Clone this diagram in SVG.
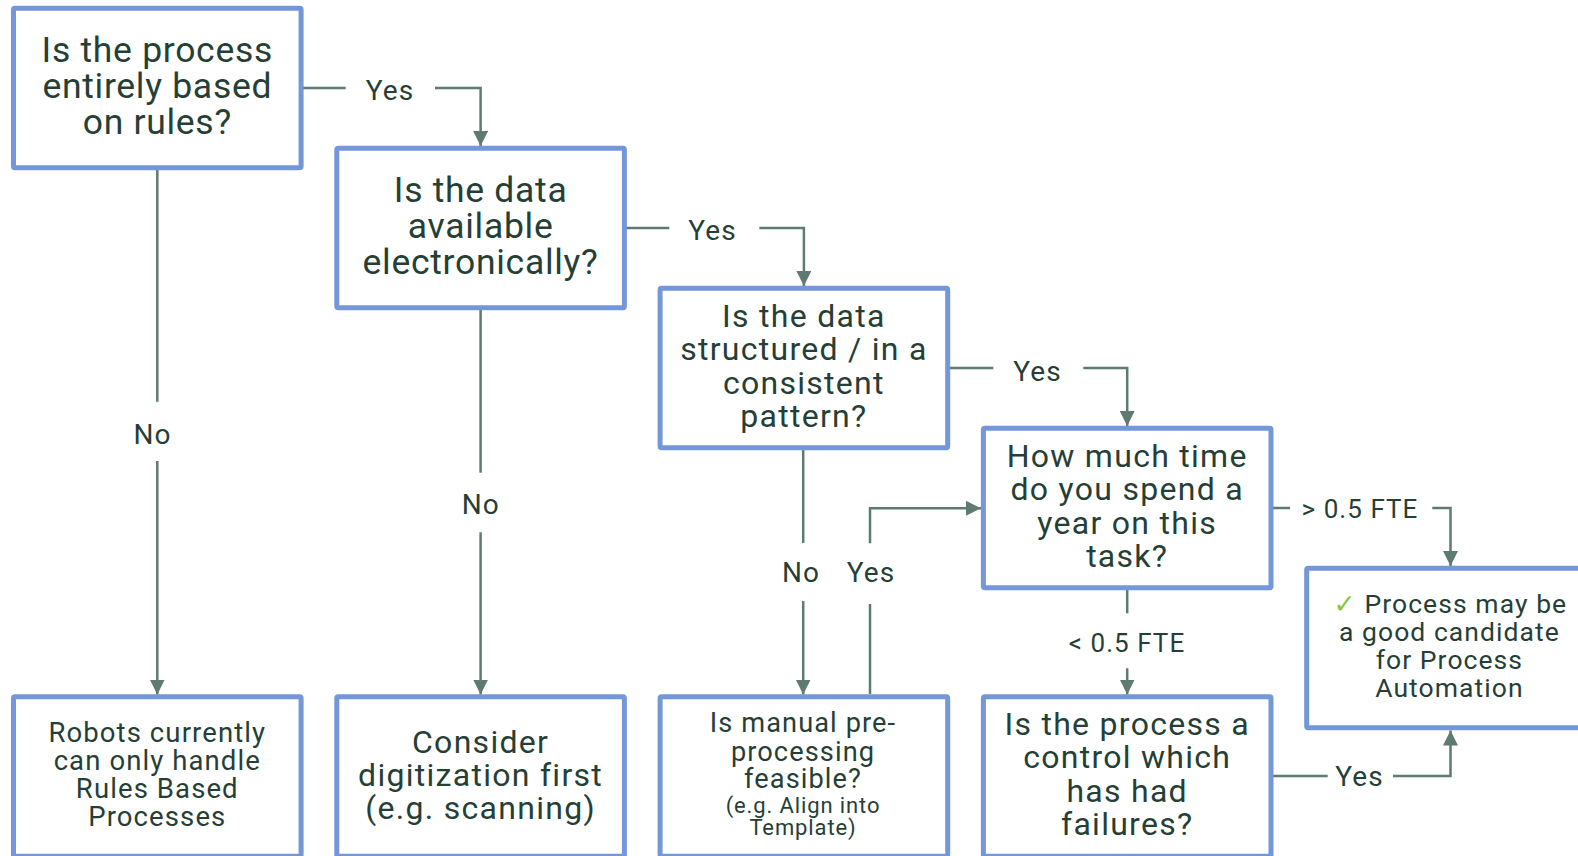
<svg xmlns="http://www.w3.org/2000/svg" width="1578" height="856" viewBox="0 0 1578 856">
<style>
  .box { fill: #ffffff; stroke: #7397d8; stroke-width: 5; }
  .t { font-family: Roboto, "Liberation Sans", sans-serif; fill: #263f36; text-anchor: middle; letter-spacing: 0.04em; }
  .xl { font-size: 35.5px; letter-spacing: 0.02em; }
  .l { font-size: 32px; }
  .m { font-size: 26.5px; }
  .mb { font-size: 27.5px; }
  .mp { font-size: 27.2px; }
  .s { font-size: 22px; }
  .lab { font-family: Roboto, "Liberation Sans", sans-serif; fill: #263f36; text-anchor: middle; font-size: 28px; letter-spacing: 0.04em; }
  .lab2 { font-size: 26px; }
  .c { fill: none; stroke: #5e7b72; stroke-width: 2.5; }
  .chk { fill: #8cc63f; font-family: "DejaVu Sans", sans-serif; }
</style>
<defs>
  <marker id="arr" markerUnits="userSpaceOnUse" markerWidth="15" markerHeight="15" refX="15" refY="7.5" orient="auto">
    <path d="M0,0 L15,7.5 L0,15 z" fill="#5e7b72"/>
  </marker>
</defs>
<rect width="1578" height="856" fill="#ffffff"/>

<g id="connectors">
  <path class="c" d="M303,88 H345.7 M435,88 H480.6 V146" marker-end="url(#arr)"/>
  <path class="c" d="M626,228 H669.3 M759.3,228 H803.9 V286" marker-end="url(#arr)"/>
  <path class="c" d="M949,368 H993.3 M1083.3,368 H1127.2 V426" marker-end="url(#arr)"/>
  <path class="c" d="M1273,508 H1290 M1432.3,508 H1450.5 V566" marker-end="url(#arr)"/>
  <path class="c" d="M1127.2,590 V613.3 M1127.2,668.3 V694.5" marker-end="url(#arr)"/>
  <path class="c" d="M1273,776 H1327.7 M1393,776 H1450.5 V730.5" marker-end="url(#arr)"/>
  <path class="c" d="M157.3,170 V401.7 M157.3,461 V694.5" marker-end="url(#arr)"/>
  <path class="c" d="M480.6,310 V472.7 M480.6,532.3 V694.5" marker-end="url(#arr)"/>
  <path class="c" d="M803.2,450 V543 M803.2,601 V694.5" marker-end="url(#arr)"/>
  <path class="c" d="M870,694 V604 M870,543.3 V508.3 H981" marker-end="url(#arr)"/>
  <text class="lab" x="390" y="100">Yes</text>
  <text class="lab" x="712.5" y="240">Yes</text>
  <text class="lab" x="1037.5" y="380.7">Yes</text>
  <text class="lab lab2" x="1360" y="517.7">&gt; 0.5 FTE</text>
  <text class="lab lab2" x="1127" y="651.7">&lt; 0.5 FTE</text>
  <text class="lab" x="1359.5" y="786">Yes</text>
  <text class="lab" x="152.5" y="444.3">No</text>
  <text class="lab" x="480.8" y="514.3">No</text>
  <text class="lab" x="801" y="582">No</text>
  <text class="lab" x="871" y="582">Yes</text>
</g>

<g id="n1">
  <rect class="box" x="13.5" y="8.3" width="287.6" height="159.5" rx="1.5"/>
  <text class="t xl" x="157.3" y="62.3">Is the process</text>
  <text class="t xl" x="157.3" y="98.3">entirely based</text>
  <text class="t xl" x="157.3" y="134.3">on rules?</text>
</g>
<g id="n2">
  <rect class="box" x="336.8" y="148.3" width="287.6" height="159.5" rx="1.5"/>
  <text class="t xl" x="480.6" y="201.7">Is the data</text>
  <text class="t xl" x="480.6" y="237.7">available</text>
  <text class="t xl" x="480.6" y="273.7">electronically?</text>
</g>
<g id="n3">
  <rect class="box" x="660.1" y="288.3" width="287.6" height="159.5" rx="1.5"/>
  <text class="t l" x="803.9" y="327">Is the data</text>
  <text class="t l" x="803.9" y="360.3">structured / in a</text>
  <text class="t l" x="803.9" y="393.6">consistent</text>
  <text class="t l" x="803.9" y="427">pattern?</text>
</g>
<g id="n4">
  <rect class="box" x="983.4" y="428.3" width="287.6" height="159.5" rx="1.5"/>
  <text class="t l" x="1127.2" y="467">How much time</text>
  <text class="t l" x="1127.2" y="500.3">do you spend a</text>
  <text class="t l" x="1127.2" y="533.6">year on this</text>
  <text class="t l" x="1127.2" y="567">task?</text>
</g>
<g id="n5">
  <rect class="box" x="1306.7" y="568.3" width="287.6" height="159.5" rx="1.5"/>
  <text class="t m" x="1450.4" y="613"><tspan class="chk">✓</tspan> Process may be</text>
  <text class="t m" x="1449.4" y="641">a good candidate</text>
  <text class="t m" x="1449.4" y="669">for Process</text>
  <text class="t m" x="1449.4" y="697">Automation</text>
</g>
<g id="b1">
  <rect class="box" x="13.5" y="696.7" width="287.6" height="159.5" rx="1.5"/>
  <text class="t mb" x="157.3" y="742">Robots currently</text>
  <text class="t mb" x="157.3" y="770">can only handle</text>
  <text class="t mb" x="157.3" y="798">Rules Based</text>
  <text class="t mb" x="157.3" y="826">Processes</text>
</g>
<g id="b2">
  <rect class="box" x="336.8" y="696.7" width="287.6" height="159.5" rx="1.5"/>
  <text class="t l" x="480.6" y="752.5">Consider</text>
  <text class="t l" x="480.6" y="785.5">digitization first</text>
  <text class="t l" x="480.6" y="818.5">(e.g. scanning)</text>
</g>
<g id="b3">
  <rect class="box" x="660.1" y="696.7" width="287.6" height="159.5" rx="1.5"/>
  <text class="t mp" x="803" y="732">Is manual pre-</text>
  <text class="t mp" x="803" y="760.5">processing</text>
  <text class="t mp" x="803" y="788">feasible?</text>
  <text class="t s" x="803" y="813.3">(e.g. Align into</text>
  <text class="t s" x="803" y="835">Template)</text>
</g>
<g id="b4">
  <rect class="box" x="983.4" y="696.7" width="287.6" height="159.5" rx="1.5"/>
  <text class="t l" x="1127.2" y="735">Is the process a</text>
  <text class="t l" x="1127.2" y="768.3">control which</text>
  <text class="t l" x="1127.2" y="801.6">has had</text>
  <text class="t l" x="1127.2" y="835">failures?</text>
</g>
</svg>
